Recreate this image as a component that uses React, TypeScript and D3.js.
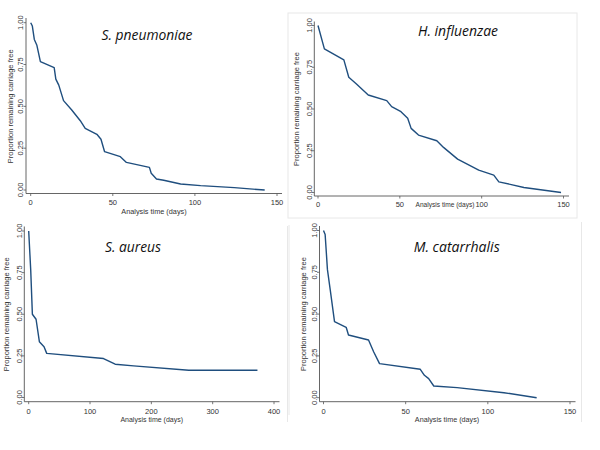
import React from "react";
import * as d3 from "d3";

// ---------- DATA ----------
const pneumoniaeTime = [0, 1, 2.2, 3.7, 5.9, 14.3, 15.3, 17.1, 20, 25, 30.2, 33.2, 40.3, 42.8, 45, 54.6, 58.3, 72.3, 73.4, 76.6, 81, 91.3, 103.5, 124, 142.5];
const pneumoniaeSurv = [1.0, 0.98, 0.9, 0.867, 0.767, 0.731, 0.663, 0.627, 0.534, 0.478, 0.414, 0.369, 0.333, 0.303, 0.229, 0.199, 0.165, 0.135, 0.1, 0.066, 0.058, 0.036, 0.026, 0.014, 0.0];

const influenzaeTime = [0, 3.9, 15.8, 18.8, 23.5, 30.7, 42, 45, 50.7, 54.8, 56.9, 61.4, 72.6, 76.7, 85.3, 98.2, 107.4, 110.5, 125.8, 148.5];
const influenzaeSurv = [1.0, 0.86, 0.794, 0.69, 0.65, 0.584, 0.55, 0.514, 0.484, 0.444, 0.384, 0.344, 0.31, 0.27, 0.2, 0.134, 0.104, 0.064, 0.03, 0.0];

const aureusTime = [0, 3.3, 6, 12, 17.4, 25, 29.4, 122, 141, 171, 261, 373];
const aureusSurv = [1.0, 0.765, 0.5, 0.47, 0.335, 0.305, 0.265, 0.234, 0.2, 0.19, 0.164, 0.164];

const catarrhalisTime = [0, 1, 2.4, 4.1, 6.7, 13.8, 15.2, 27.4, 30.5, 34.1, 58.9, 61.4, 64, 67.1, 81.3, 109.8, 129.7];
const catarrhalisSurv = [1.0, 0.976, 0.766, 0.645, 0.455, 0.421, 0.375, 0.345, 0.275, 0.204, 0.17, 0.134, 0.114, 0.07, 0.06, 0.03, 0.0];

const yTicks = [0, 0.25, 0.5, 0.75, 1];
const xTicks150 = [0, 50, 100, 150];
const xTicks400 = [0, 100, 200, 300, 400];

const titles = ["S. pneumoniae", "H. influenzae", "S. aureus", "M. catarrhalis"];
const xAxisTitle = "Analysis time (days)";
const yAxisTitle = "Proportion remaining carriage free";

// ---------- LAYOUT ----------
type PanelCfg = {
  time: number[];
  surv: number[];
  title: string;
  xMax: number;
  xTicks: number[];
  xRange: [number, number];
  yRange: [number, number];
  axisX: number;
  axisY: number;
  regionRight: number;
  regionTop: number;
  yTitleX: number;
  xLabelY: number;
  xTitleX: number;
  xTitleY: number;
  xTitleSize: number;
  titleX: number;
  titleY: number;
  titleLen: number;
};

const panels: PanelCfg[] = [
  {
    time: pneumoniaeTime, surv: pneumoniaeSurv, title: titles[0], xMax: 150, xTicks: xTicks150,
    xRange: [30.7, 277], yRange: [190, 22.7], axisX: 26, axisY: 193.5, regionRight: 282, regionTop: 18,
    yTitleX: 10.7, xLabelY: 204.5, xTitleX: 154, xTitleY: 213.8, xTitleSize: 7.3, titleX: 147, titleY: 40, titleLen: 91,
  },
  {
    time: influenzaeTime, surv: influenzaeSurv, title: titles[1], xMax: 150, xTicks: xTicks150,
    xRange: [318, 563.5], yRange: [192.5, 25.5], axisX: 314.3, axisY: 196, regionRight: 569, regionTop: 21.5,
    yTitleX: 296, xLabelY: 206.8, xTitleX: 445, xTitleY: 206.5, xTitleSize: 6.6, titleX: 458, titleY: 35.7, titleLen: 80,
  },
  {
    time: aureusTime, surv: aureusSurv, title: titles[2], xMax: 400, xTicks: xTicks400,
    xRange: [28.7, 274], yRange: [397.5, 231], axisX: 24.3, axisY: 401.7, regionRight: 279.5, regionTop: 226.5,
    yTitleX: 6.3, xLabelY: 413.8, xTitleX: 151.7, xTitleY: 422, xTitleSize: 7, titleX: 133, titleY: 252.3, titleLen: 56,
  },
  {
    time: catarrhalisTime, surv: catarrhalisSurv, title: titles[3], xMax: 150, xTicks: xTicks150,
    xRange: [323.5, 570], yRange: [397.7, 230.5], axisX: 319.5, axisY: 401.7, regionRight: 575.5, regionTop: 226,
    yTitleX: 303, xLabelY: 413.8, xTitleX: 447, xTitleY: 421.5, xTitleSize: 7.2, titleX: 456.7, titleY: 252.3, titleLen: 86,
  },
];

const LINE_COLOR = "#1f4e7e";
const AXIS_COLOR = "#555";
const TEXT_COLOR = "#333";
const FRAME_COLOR = "#e8e8e8";
const SANS = "'Liberation Sans', Arial, sans-serif";

function Panel({ cfg }: { cfg: PanelCfg }) {
  const x = d3.scaleLinear().domain([0, cfg.xMax]).range(cfg.xRange);
  const y = d3.scaleLinear().domain([0, 1]).range(cfg.yRange);
  const data = cfg.time.map((t, i) => [t, cfg.surv[i]] as [number, number]);
  const line = d3.line<[number, number]>().x((d) => x(d[0])).y((d) => y(d[1]));
  const fmt = d3.format(".2f");
  const yMid = (cfg.yRange[0] + cfg.yRange[1]) / 2;
  const tickLen = 2.5;
  return (
    <g>
      <line x1={cfg.axisX} x2={cfg.axisX} y1={cfg.regionTop} y2={cfg.axisY} stroke={AXIS_COLOR} strokeWidth={0.9} />
      <line x1={cfg.axisX} x2={cfg.regionRight} y1={cfg.axisY} y2={cfg.axisY} stroke={AXIS_COLOR} strokeWidth={0.9} />
      {yTicks.map((t) => (
        <g key={"y" + t}>
          <line x1={cfg.axisX - tickLen} x2={cfg.axisX} y1={y(t)} y2={y(t)} stroke={AXIS_COLOR} strokeWidth={0.8} />
          <text
            transform={`translate(${cfg.axisX - tickLen - 0.3},${y(t)}) rotate(-90)`}
            textAnchor="middle"
            fontFamily={SANS}
            fontSize={7.5}
            fill={TEXT_COLOR}
          >
            {fmt(t)}
          </text>
        </g>
      ))}
      {cfg.xTicks.map((t) => (
        <g key={"x" + t}>
          <line x1={x(t)} x2={x(t)} y1={cfg.axisY} y2={cfg.axisY + tickLen} stroke={AXIS_COLOR} strokeWidth={0.8} />
          <text x={x(t)} y={cfg.xLabelY} textAnchor="middle" fontFamily={SANS} fontSize={7.5} fill={TEXT_COLOR}>
            {t}
          </text>
        </g>
      ))}
      <text
        transform={`translate(${cfg.yTitleX + 2.7},${yMid}) rotate(-90)`}
        textAnchor="middle"
        fontFamily={SANS}
        fontSize={7.5}
        fill={TEXT_COLOR}
      >
        {yAxisTitle}
      </text>
      <text x={cfg.xTitleX} y={cfg.xTitleY} textAnchor="middle" fontFamily={SANS} fontSize={cfg.xTitleSize} fill={TEXT_COLOR}>
        {xAxisTitle}
      </text>
      <path d={line(data) || ""} fill="none" stroke={LINE_COLOR} strokeWidth={1.4} strokeLinejoin="round" />
      <text
        x={cfg.titleX}
        y={cfg.titleY}
        textAnchor="middle"
        fontFamily="'Open Sans', sans-serif"
        fontStyle="italic"
        fontSize={15}
        fill="#111"
        textLength={cfg.titleLen}
        lengthAdjust="spacingAndGlyphs"
      >
        {cfg.title}
      </text>
    </g>
  );
}

export default function App() {
  return (
    <svg
      width={600}
      height={450}
      viewBox="0 0 600 450"
      style={{ position: "absolute", left: 0, top: 0, background: "#fff" }}
    >
      <rect x={0} y={0} width={600} height={450} fill="#fff" />
      <rect x={288} y={13} width={289} height={205} fill="none" stroke={FRAME_COLOR} strokeWidth={1} />
      <line x1={287.5} x2={287.5} y1={226} y2={422} stroke={FRAME_COLOR} strokeWidth={1} />
      <line x1={289} x2={289} y1={225} y2={415} stroke={FRAME_COLOR} strokeWidth={1} />
      <line x1={581.5} x2={581.5} y1={222} y2={422} stroke={FRAME_COLOR} strokeWidth={1} />
      {panels.map((p, i) => (
        <Panel key={i} cfg={p} />
      ))}
    </svg>
  );
}
